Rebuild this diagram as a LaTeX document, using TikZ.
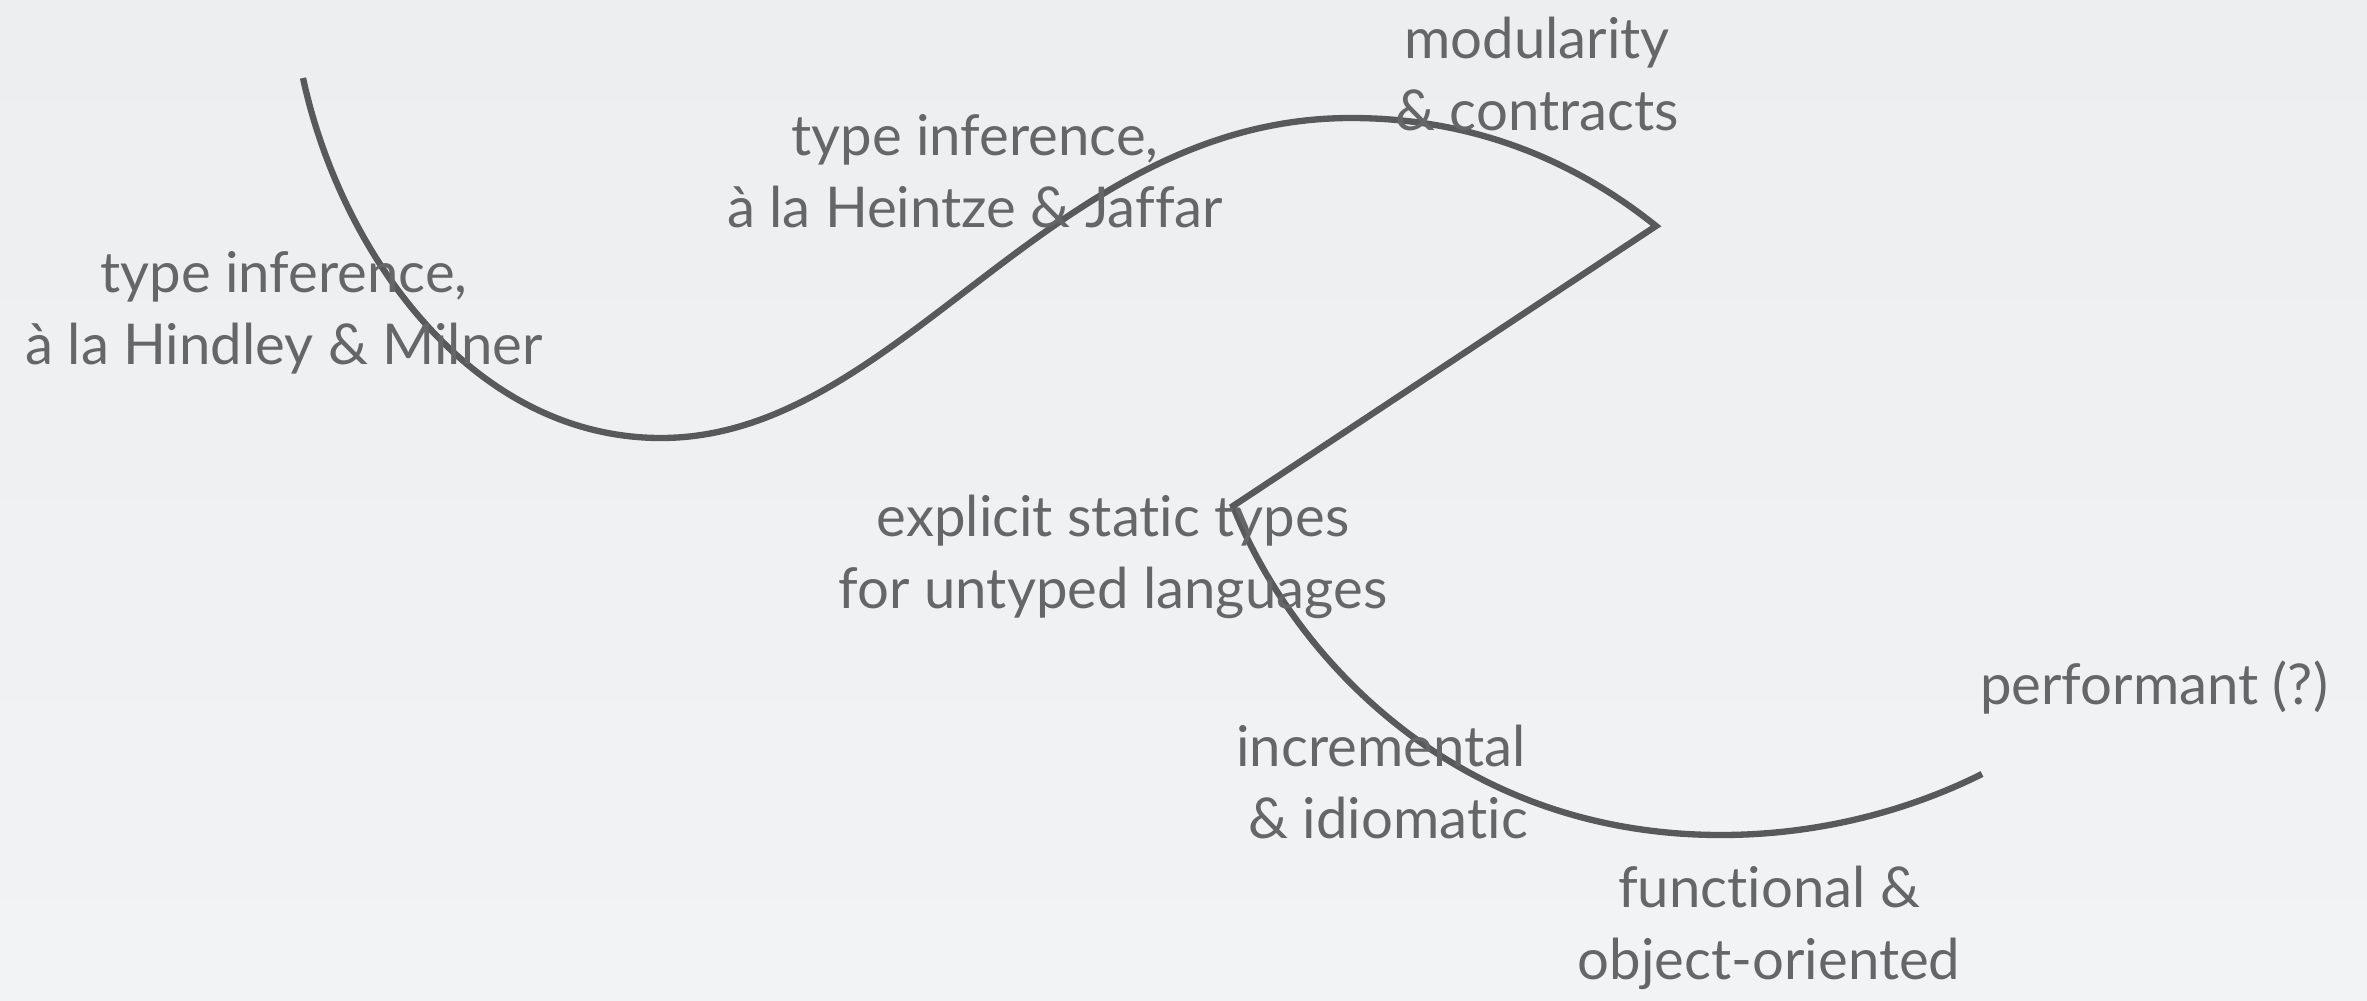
\documentclass[tikz,border=0pt]{standalone}
\usepackage{fontspec}
\setmainfont{Lato}[Ligatures={NoCommon,NoDiscretionary,NoRare,NoContextual}]
\usepackage{xcolor}
\usepackage{tikz}
\usetikzlibrary{positioning,calc}
\definecolor{slidebg}{HTML}{EDEEF0}
\definecolor{slidebgB}{HTML}{F2F3F5}
\definecolor{slideink}{HTML}{58595B}

\begin{document}
\begin{tikzpicture}[
    x=0.01cm, y=-0.01cm,
    topic/.style={text=slideink!92, align=center, inner sep=0pt, font=\fontsize{16}{20.6}\selectfont},
    track/.style={draw=slideink, line width=1.8pt, line join=miter, line cap=butt}
]

\shade [top color=slidebg, bottom color=slidebgB] (0,0) rectangle (2367,1000);
\useasboundingbox (0,0) rectangle (2367,1000);

% the road
\coordinate (start) at (303,78);
\coordinate (dip) at (661,438);
\coordinate (crest) at (1351,118);
\coordinate (tipR) at (1656,226);
\coordinate (tipL) at (1233,506);
\coordinate (low) at (1721,835);
\coordinate (finish) at (1982,774);

\draw [track] (start) .. controls (340,250) and (470,438) .. (dip)
    .. controls (900,438) and (1050,118) .. (crest)
    .. controls (1480,118) and (1580,165) .. (tipR)
    -- (tipL)
    .. controls (1290,650) and (1450,835) .. (low)
    .. controls (1820,835) and (1910,810) .. (finish);

% the stops
\node [topic] (hm) at (284,313) {type inference,\\à la Hindley \& Milner};
\node [topic] (hj) at (975,171) {type inference,\\à la Heintze \& Jaffar};
\node [topic] (mc) at (1537,74) {modularity\\\& contracts};
\node [topic] (es) at (1113,557) {explicit static types\\for untyped languages};
\node [topic] (pf) at (2154,687) {performant (?)};
\node [topic] (ii) at (1381,782) {incremental\\\ \& idiomatic};
\node [topic] (fo) at (1769,928) {functional \&\\object-oriented};

\end{tikzpicture}
\end{document}
